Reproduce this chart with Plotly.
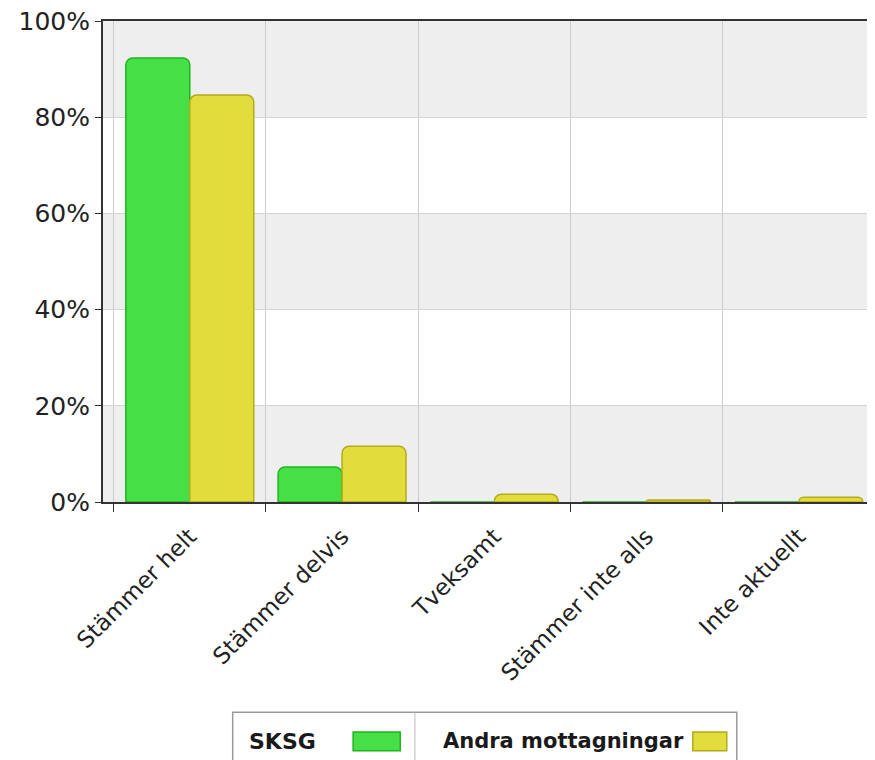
import plotly.graph_objects as go

categories = ["Stämmer helt", "Stämmer delvis", "Tveksamt", "Stämmer inte alls", "Inte aktuellt"]
sksg = [92.3, 7.3, 0.0, 0.0, 0.0]
andra = [84.6, 11.6, 1.6, 0.4, 1.0]
series_names = ["SKSG", "Andra mottagningar"]
y_ticks = [0, 20, 40, 60, 80, 100]
y_tick_labels = ["0%", "20%", "40%", "60%", "80%", "100%"]

GREEN, GREEN_LINE = "#46e046", "#1fb51f"
YELLOW, YELLOW_LINE = "#e2dc3c", "#b3ab1c"

fig = go.Figure()
fig.add_bar(x=categories, y=sksg, name=series_names[0],
            marker=dict(color=GREEN, line=dict(color=GREEN_LINE, width=1.5)))
fig.add_bar(x=categories, y=andra, name=series_names[1],
            marker=dict(color=YELLOW, line=dict(color=YELLOW_LINE, width=1.5)))

# alternating background bands
for lo in (0, 40, 80):
    fig.add_shape(type="rect", xref="paper", yref="y", x0=0, x1=1, y0=lo, y1=lo + 20,
                  fillcolor="#eeeeee", line_width=0, layer="below")

# custom legend (text followed by swatch)
L, R, T, B = 0.168, 0.821, -0.437, -0.60
D = 0.404
fig.add_shape(type="rect", xref="paper", yref="paper", x0=L, x1=R, y0=B, y1=T,
              line=dict(color="#999999", width=1.5), fillcolor="white")
fig.add_shape(type="line", xref="paper", yref="paper", x0=D, x1=D, y0=B, y1=T,
              line=dict(color="#bbbbbb", width=1))
swatches = [(0.324, 0.385, GREEN, GREEN_LINE), (0.764, 0.808, YELLOW, YELLOW_LINE)]
for x0, x1, fc, lc in swatches:
    fig.add_shape(type="rect", xref="paper", yref="paper", x0=x0, x1=x1, y0=-0.517, y1=-0.478,
                  fillcolor=fc, line=dict(color=lc, width=1.5))
fig.add_annotation(xref="paper", yref="paper", x=0.2785, y=-0.497, xanchor="right", yanchor="middle",
                   text="<b>" + series_names[0] + "</b>", showarrow=False,
                   font=dict(family="DejaVu Sans", size=22, color="#1a1a1a"))
fig.add_annotation(xref="paper", yref="paper", x=0.755, y=-0.497, xanchor="right", yanchor="middle",
                   text="<b>" + series_names[1] + "</b>", showarrow=False,
                   font=dict(family="DejaVu Sans", size=21, color="#1a1a1a"))

fig.update_layout(
    width=867, height=752,
    margin=dict(l=95, r=0, t=13, b=258),
    paper_bgcolor="white", plot_bgcolor="white",
    barmode="group", bargap=0.16, bargroupgap=0.0,
    barcornerradius=7,
    showlegend=False,
    font=dict(family="DejaVu Sans", color="#333333"),
)
fig.update_xaxes(
    type="category", range=[-0.57, 4.5],
    tickson="boundaries", ticks="outside", ticklen=8, tickcolor="#333333",
    showgrid=True, gridcolor="#cccccc", gridwidth=1,
    showline=True, linecolor="#333333", linewidth=2, mirror=True,
    tickangle=-45, tickfont=dict(size=23, color="#222222"),
    ticklabelstandoff=10,
)
fig.update_yaxes(
    range=[0, 100], tickvals=y_ticks, ticktext=y_tick_labels,
    ticks="outside", ticklen=6, tickcolor="#333333",
    showgrid=True, gridcolor="#d4d4d4", gridwidth=1,
    showline=True, linecolor="#333333", linewidth=2,
    tickfont=dict(size=25, color="#222222"), zeroline=False,
    ticklabeloverflow="allow",
)

fig.write_html("out.html")
